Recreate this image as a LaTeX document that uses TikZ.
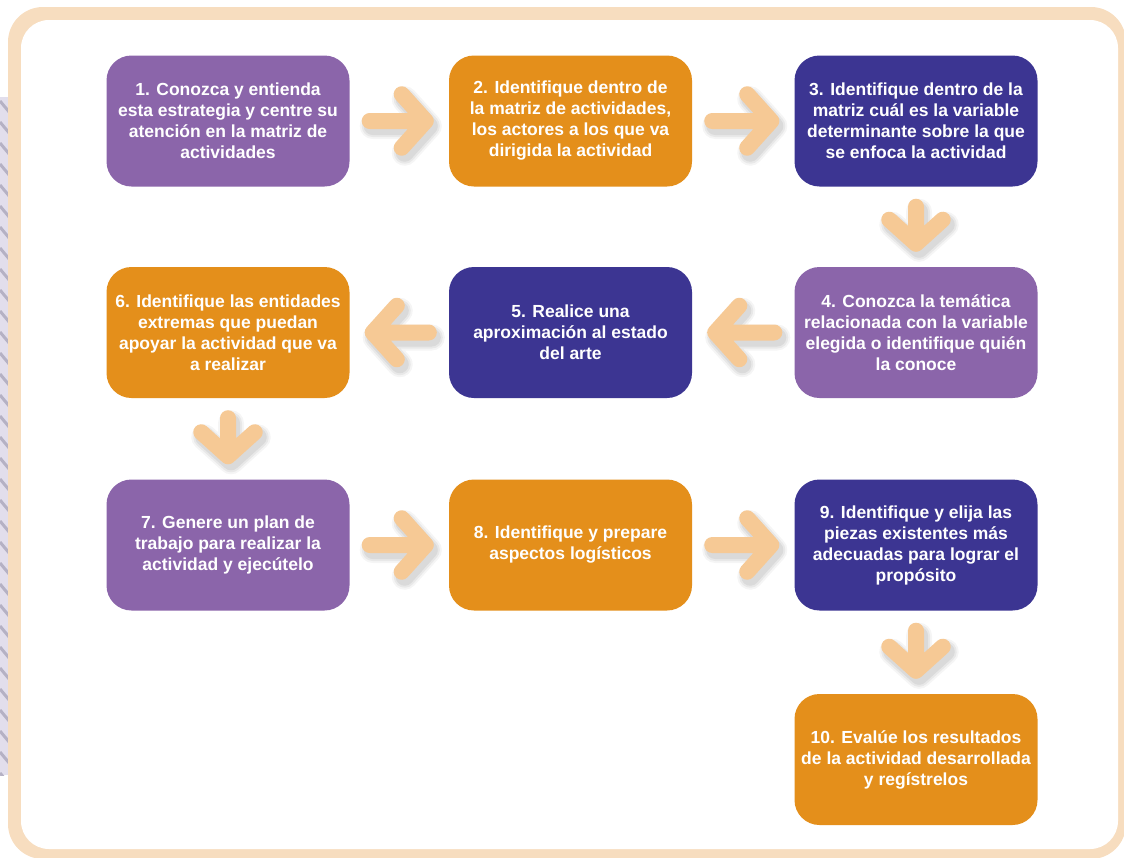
\documentclass[tikz,border=0pt]{standalone}
\usepackage{fontspec}
\setmainfont{Liberation Sans}
\usetikzlibrary{calc}
\definecolor{cpurple}{HTML}{8B65AA}
\definecolor{corange}{HTML}{E48F1B}
\definecolor{cblue}{HTML}{3C3592}
\definecolor{carrow}{HTML}{F6C995}
\definecolor{cframe}{HTML}{F7DDBF}
\definecolor{cstripbg}{HTML}{E2DEEC}
\definecolor{cstripe}{HTML}{B5B1C4}
\tikzset{
  stepbox/.style={rectangle, rounded corners=25pt, minimum width=243pt, minimum height=131pt,
    inner sep=0pt, text=white, align=center,
    font=\fontsize{17.5}{21}\selectfont\bfseries},
  flowline/.style={draw=carrow, line width=16pt, line cap=round, line join=round},
  flowshadow/.style={draw=black, line cap=round, line join=round},
}
\newcommand{\flowarrow}[2]{%
  \coordinate (fa-s) at ($#1!20pt!#2$);
  \coordinate (fa-t) at ($#2!23pt!#1$);
  \coordinate (fa-a) at ($(fa-t)!36pt!48:(fa-s)$);
  \coordinate (fa-b) at ($(fa-t)!36pt!-48:(fa-s)$);
  \begin{scope}[transform canvas={shift={(3pt,-5pt)}}]
    \draw[flowshadow, line width=26pt, opacity=0.04] (fa-s) -- (fa-t) (fa-a) -- (fa-t) -- (fa-b);
    \draw[flowshadow, line width=22pt, opacity=0.05] (fa-s) -- (fa-t) (fa-a) -- (fa-t) -- (fa-b);
    \draw[flowshadow, line width=18pt, opacity=0.06] (fa-s) -- (fa-t) (fa-a) -- (fa-t) -- (fa-b);
  \end{scope}
  \draw[flowline] (fa-s) -- (fa-t) (fa-a) -- (fa-t) -- (fa-b);
}
\begin{document}
\begin{tikzpicture}[x=1pt, y=-1pt]
\useasboundingbox (0,0) rectangle (1124,857);
% left striped strip
\begin{scope}
  \clip (0,97) rectangle (12,775);
  \fill[cstripbg] (0,97) rectangle (12,775);
  \foreach \yy in {80,101,...,790} \draw[cstripe, line width=3pt] (0,\yy) -- (10,\yy+12);
\end{scope}
% frame
\fill[cframe, rounded corners=35pt] (8,7) rectangle (1126,859);
\fill[white, rounded corners=28pt] (21,20) rectangle (1118,849);
% boxes
\node[stepbox, fill=cpurple] (b1) at (228,121) {1. Conozca y entienda\\esta estrategia y centre su\\atención en la matriz de\\actividades};
\node[stepbox, fill=corange] (b2) at (570.5,121) {2. Identifique dentro de\\la matriz de actividades,\\los actores a los que va\\dirigida la actividad};
\node[stepbox, fill=cblue] (b3) at (916,121) {3. Identifique dentro de la\\matriz cuál es la variable\\determinante sobre la que\\se enfoca la actividad};
\node[stepbox, fill=cpurple] (b4) at (916,332.5) {4. Conozca la temática\\relacionada con la variable\\elegida o identifique quién\\la conoce};
\node[stepbox, fill=cblue] (b5) at (570.5,332.5) {5. Realice una\\aproximación al estado\\del arte};
\node[stepbox, fill=corange] (b6) at (228,332.5) {6. Identifique las entidades\\extremas que puedan\\apoyar la actividad que va\\a realizar};
\node[stepbox, fill=cpurple] (b7) at (228,545) {7. Genere un plan de\\trabajo para realizar la\\actividad y ejecútelo};
\node[stepbox, fill=corange] (b8) at (570.5,545) {8. Identifique y prepare\\aspectos logísticos};
\node[stepbox, fill=cblue] (b9) at (916,545) {9. Identifique y elija las\\piezas existentes más\\adecuadas para lograr el\\propósito};
\node[stepbox, fill=corange] (b10) at (916,759.5) {10. Evalúe los resultados\\de la actividad desarrollada\\y regístrelos};
% arrows
\flowarrow{(b1.east)}{(b2.west)}
\flowarrow{(b2.east)}{(b3.west)}
\flowarrow{(b3.south)}{(b4.north)}
\flowarrow{(b4.west)}{(b5.east)}
\flowarrow{(b5.west)}{(b6.east)}
\flowarrow{(b6.south)}{(b7.north)}
\flowarrow{(b7.east)}{(b8.west)}
\flowarrow{(b8.east)}{(b9.west)}
\flowarrow{(b9.south)}{(b10.north)}
\end{tikzpicture}
\end{document}
